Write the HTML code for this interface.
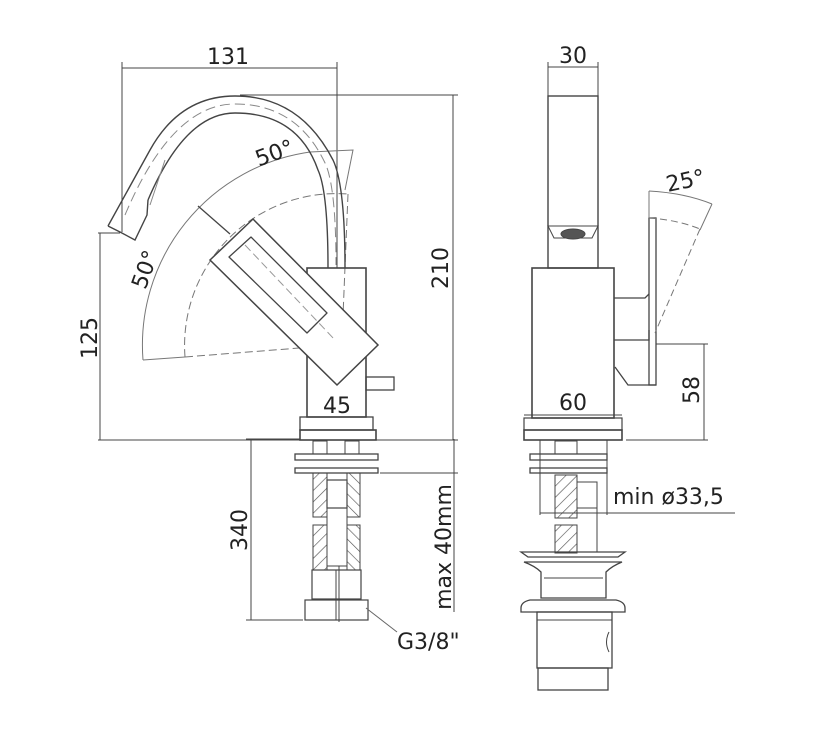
<!DOCTYPE html>
<html><head><meta charset="utf-8"><style>html,body{margin:0;padding:0;background:#fff}svg{display:block}text{font-family:"DejaVu Sans","Liberation Sans",sans-serif;fill:#222}</style></head>
<body>
<svg width="818" height="734" viewBox="0 0 818 734" xmlns="http://www.w3.org/2000/svg">
<defs>
<pattern id="h" width="8" height="8" patternUnits="userSpaceOnUse" patternTransform="rotate(45)"><line x1="0" y1="0" x2="0" y2="8" stroke="#555" stroke-width="1.3"/></pattern>
<pattern id="h2" width="8" height="8" patternUnits="userSpaceOnUse" patternTransform="rotate(-45)"><line x1="0" y1="0" x2="0" y2="8" stroke="#555" stroke-width="1.3"/></pattern>
</defs>
<g fill="none" stroke="#444" stroke-width="1">
<line x1="122" y1="68" x2="337" y2="68"/><line x1="122" y1="62" x2="122" y2="232"/><line x1="337" y1="62" x2="337" y2="268"/>
<line x1="240" y1="95" x2="458" y2="95"/><line x1="453" y1="95" x2="453" y2="440"/>
<line x1="98" y1="233" x2="120" y2="233"/><line x1="100" y1="233" x2="100" y2="440"/>
<line x1="98" y1="440" x2="300" y2="440"/><line x1="376" y1="440" x2="458" y2="440"/>
<path d="M143,360 A195,195 0 0 1 310,152" stroke="#777"/>
<path d="M310,152 L353,150 L345,190" stroke="#777"/>
<path d="M185,357 A152,152 0 0 1 348,194" stroke="#777" stroke-dasharray="8,4"/>
<line x1="143" y1="360" x2="185" y2="357" stroke="#777"/>
<line x1="185" y1="357" x2="337" y2="345" stroke="#777" stroke-dasharray="8,4"/>
<line x1="348" y1="194" x2="342" y2="340" stroke="#777" stroke-dasharray="8,4"/>
<line x1="198" y1="206" x2="230" y2="234" stroke-width="1.3"/>
<path d="M108,226 L150,150 Q180,96 235,96 Q300,96 333,160 Q345,185 345,268" stroke-width="1.4"/>
<path d="M148,200 Q185,113 235,113 Q298,113 318,170 Q328,192 328,268" stroke-width="1.4"/>
<path d="M125,215 Q172,104 235,104 Q298,104 326,165 Q336,190 336,265" stroke="#888" stroke-dasharray="10,5"/>
<path d="M108,226 L120,232 L135,240 L147,215 L148,200" stroke-width="1.4"/>
<line x1="150" y1="205" x2="165" y2="160" stroke="#888"/>
<rect x="307" y="268" width="59" height="149" stroke-width="1.6"/>
<rect x="300" y="417" width="73" height="13" stroke-width="1.3"/>
<rect x="300" y="430" width="76" height="10" stroke-width="1.6"/>
<rect x="366" y="377" width="28" height="13" stroke-width="1.3"/>
<polygon points="210,260 253,219 378,345 337,385" fill="#fff" stroke-width="1.5"/>
<polygon points="229,257 251,237 327,313 307,333" stroke-width="1.3" stroke-linejoin="round"/>
<line x1="245" y1="245" x2="335" y2="340" stroke="#999" stroke-dasharray="8,4"/>
<line x1="251" y1="439" x2="251" y2="620"/><line x1="246" y1="439" x2="300" y2="439"/><line x1="246" y1="620" x2="303" y2="620"/>
<line x1="454" y1="439" x2="454" y2="612"/><line x1="380" y1="473" x2="458" y2="473"/>
<rect x="295" y="454" width="83" height="6" stroke-width="1.3"/>
<rect x="295" y="468" width="83" height="5" stroke-width="1.3"/>
<rect x="313" y="441" width="14" height="13"/><rect x="345" y="441" width="14" height="13"/>
<rect x="313" y="473" width="14" height="44" fill="url(#h)"/><rect x="347" y="473" width="13" height="44" fill="url(#h2)"/>
<rect x="313" y="525" width="14" height="45" fill="url(#h)"/><rect x="347" y="525" width="13" height="45" fill="url(#h2)"/>
<rect x="327" y="480" width="20" height="28" stroke-width="1.2"/>
<rect x="327" y="508" width="20" height="58"/>
<rect x="312" y="570" width="49" height="29" stroke-width="1.2"/>
<line x1="336" y1="570" x2="336" y2="620"/><line x1="339" y1="566" x2="339" y2="622"/>
<rect x="305" y="600" width="63" height="20" stroke-width="1.2"/>
<line x1="366" y1="608" x2="397" y2="632" stroke="#666"/>
<line x1="548" y1="67" x2="598" y2="67"/><line x1="548" y1="62" x2="548" y2="96"/><line x1="598" y1="62" x2="598" y2="96"/>
<rect x="548" y="96" width="50" height="172" stroke-width="1.4"/>
<path d="M548,226 L598,226 L592,238 L554,238 Z"/>
<ellipse cx="573" cy="234" rx="12" ry="5" fill="#555"/>
<rect x="532" y="268" width="82" height="150" stroke-width="1.6"/>
<line x1="524" y1="415" x2="622" y2="415"/>
<rect x="524" y="418" width="98" height="12" stroke-width="1.2"/>
<rect x="524" y="430" width="98" height="10" stroke-width="1.6"/>
<rect x="649" y="218" width="7" height="167" stroke-width="1.3"/>
<path d="M614,298 L645,298 L649,294 M614,340 L649,340 L649,330 M615,367 L628,385 L656,385" stroke-width="1.3"/>
<path d="M649,191 Q685,193 712,204" stroke="#777"/><line x1="649" y1="191" x2="649" y2="218" stroke="#777"/>
<path d="M649,218 Q678,220 700,229" stroke="#777" stroke-dasharray="7,4"/>
<line x1="712" y1="204" x2="700" y2="230" stroke="#777"/>
<line x1="700" y1="229" x2="655" y2="333" stroke="#777" stroke-dasharray="7,4"/>
<line x1="656" y1="344" x2="708" y2="344"/><line x1="704" y1="344" x2="704" y2="440"/><line x1="626" y1="440" x2="708" y2="440"/>
<line x1="540" y1="440" x2="540" y2="515"/><line x1="607" y1="440" x2="607" y2="515"/>
<rect x="530" y="454" width="77" height="6" stroke-width="1.3"/>
<rect x="530" y="468" width="77" height="5" stroke-width="1.3"/>
<rect x="555" y="441" width="22" height="13"/>
<rect x="555" y="475" width="22" height="43" fill="url(#h)"/>
<rect x="555" y="525" width="22" height="28" fill="url(#h)"/>
<rect x="577" y="482" width="20" height="26"/><line x1="597" y1="508" x2="597" y2="552"/>
<line x1="540" y1="513" x2="735" y2="513"/>
<path d="M521,552 L625,552 L618,557 L528,557 Z" stroke-width="1.3"/>
<path d="M524,562 L622,562 Q612,566 606,572 L606,598 L541,598 L541,572 Q535,566 524,562 Z" stroke-width="1.3"/>
<line x1="544" y1="578" x2="603" y2="578"/>
<path d="M530,600 L616,600 Q625,602 625,608 L625,612 L521,612 L521,608 Q521,602 530,600 Z" stroke-width="1.3"/>
<rect x="537" y="612" width="75" height="56" stroke-width="1.3"/>
<line x1="537" y1="620" x2="612" y2="620"/>
<rect x="538" y="668" width="70" height="22" stroke-width="1.3"/>
<path d="M609,632 Q604,642 609,652" />
</g>
<g font-size="22">
<text x="228" y="64" text-anchor="middle">131</text>
<text x="573" y="63" text-anchor="middle">30</text>
<text x="337" y="413" text-anchor="middle">45</text>
<text x="573" y="410" text-anchor="middle">60</text>
<text transform="translate(277,160) rotate(-20)" text-anchor="middle">50°</text>
<text transform="translate(152,272) rotate(-70)" text-anchor="middle">50°</text>
<text transform="translate(687,188) rotate(-12)" text-anchor="middle">25°</text>
<text transform="translate(448,268) rotate(-90)" text-anchor="middle">210</text>
<text transform="translate(97,338) rotate(-90)" text-anchor="middle">125</text>
<text transform="translate(247,530) rotate(-90)" text-anchor="middle">340</text>
<text transform="translate(699,390) rotate(-90)" text-anchor="middle">58</text>
<text transform="translate(451,547) rotate(-90)" text-anchor="middle">max 40mm</text>
<text x="613" y="504">min ø33,5</text>
<text x="397" y="649">G3/8"</text>
</g>
</svg>
</body></html>
